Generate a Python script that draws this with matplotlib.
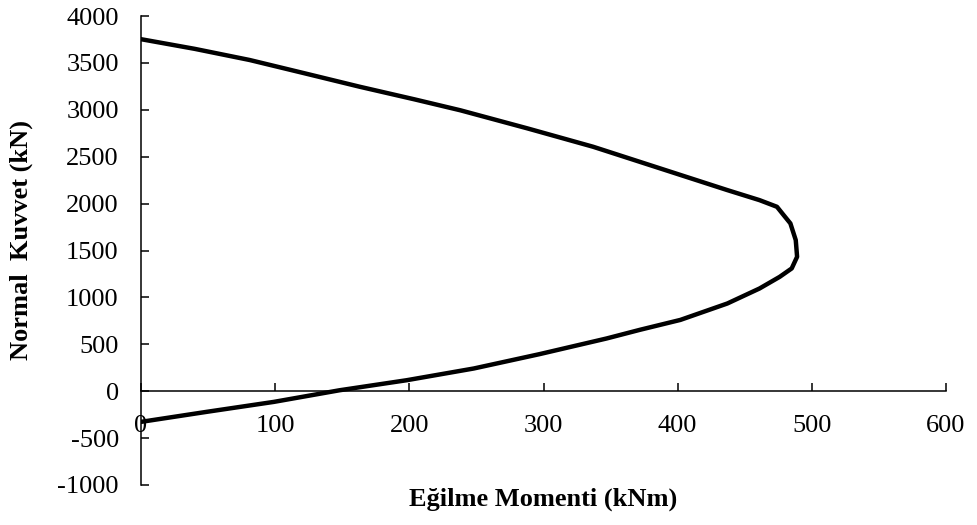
import matplotlib.pyplot as plt

# Etkileşim diyagramı verileri
moment = [0, 40, 81, 122, 163, 204, 238, 288, 337, 387, 437, 461, 474, 479, 484, 488, 489,
          485, 476, 461, 437, 402, 372, 347, 297, 248, 198, 148, 99, 49, 0]
normal = [3753, 3650, 3531, 3389, 3246, 3111, 2995, 2802, 2606, 2375, 2144, 2037, 1966, 1877,
          1789, 1611, 1433, 1309, 1219, 1095, 935, 760, 655, 562, 395, 242, 117, 10, -114,
          -220, -327]

x_ticks = [0, 100, 200, 300, 400, 500, 600]
y_ticks = [-1000, -500, 0, 500, 1000, 1500, 2000, 2500, 3000, 3500, 4000]

plt.rcParams['font.family'] = ['Liberation Serif', 'DejaVu Serif']
plt.rcParams['axes.unicode_minus'] = False

fig = plt.figure(figsize=(9.77, 5.25), dpi=100)
ax = fig.add_axes([0.1443, 0.0762, 0.824, 0.8933])

ax.plot(moment, normal, color='black', linewidth=3.2, solid_joinstyle='round')

ax.set_xlim(0, 600)
ax.set_ylim(-1000, 4000)
ax.set_xticks(x_ticks)
ax.set_yticks(y_ticks)

# eksenler 0 noktasından geçiyor
ax.spines['left'].set_position(('data', 0))
ax.spines['bottom'].set_position(('data', 0))
ax.spines['top'].set_visible(False)
ax.spines['right'].set_visible(False)
for s in ['left', 'bottom']:
    ax.spines[s].set_linewidth(1.1)

ax.tick_params(axis='x', direction='in', length=5.5, width=1.1, pad=17, labelsize=19)
ax.tick_params(axis='y', direction='in', length=5.5, width=1.1, pad=16, labelsize=19)

ax.set_xlabel('Eğilme Momenti (kNm)', fontsize=19, fontweight='bold')
ax.xaxis.set_label_coords(0.5, -0.005)
ax.set_ylabel('Normal  Kuvvet (kN)', fontsize=19, fontweight='bold')
ax.yaxis.set_label_coords(-0.134, 0.522)

fig.savefig('out.png', dpi=100)
